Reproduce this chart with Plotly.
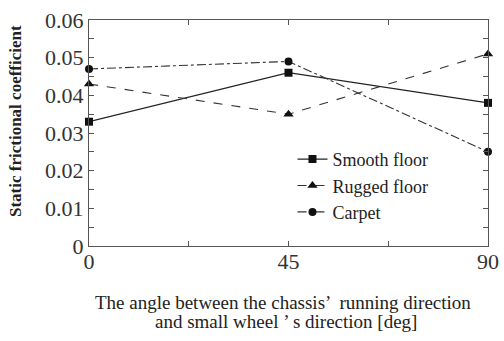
import plotly.graph_objects as go

angles = [0, 45, 90]
smooth = [0.033, 0.046, 0.038]
rugged = [0.043, 0.035, 0.051]
carpet = [0.047, 0.049, 0.025]

x_tickvals = [0, 22.5, 45, 67.5, 90]
x_ticktext = ["0", "", "45", "", "90"]
y_tickvals = [i * 0.005 for i in range(13)]
y_ticktext = ["0" if i == 0 else (f"{i*0.005:.2f}" if i % 2 == 0 else "") for i in range(13)]

xtitle_lines = ["The angle between the chassis\u2019  running direction",
                "and small wheel \u2019 s direction [deg]"]
ytitle = "Static frictional coefficient"

L, R, T, B = 89, 16, 20, 95
W, H = 504, 341
pw, ph = W - L - R, H - T - B

fig = go.Figure()
fig.add_trace(go.Scatter(x=angles, y=smooth, name="Smooth floor", mode="lines+markers",
                         line=dict(color="#222", width=1.2, dash="solid"),
                         marker=dict(symbol="square", size=8, color="#111"), cliponaxis=False))
fig.add_trace(go.Scatter(x=angles, y=rugged, name="Rugged floor", mode="lines+markers",
                         line=dict(color="#333", width=1.1, dash="dash"),
                         marker=dict(symbol="triangle-up", size=9, color="#111"), cliponaxis=False))
fig.add_trace(go.Scatter(x=angles, y=carpet, name="Carpet", mode="lines+markers",
                         line=dict(color="#333", width=1.1, dash="dashdot"),
                         marker=dict(symbol="circle", size=8, color="#111"), cliponaxis=False))

axis_common = dict(showgrid=False, zeroline=False, showline=True, linecolor="#555", linewidth=1.2,
                   mirror="ticks", ticks="inside", ticklen=5, tickcolor="#555", automargin=False,
                   tickfont=dict(family="Liberation Serif", size=22, color="#333"))

fig.update_xaxes(range=[0, 90], tickmode="array", tickvals=x_tickvals, ticktext=x_ticktext,
                 ticklabelstandoff=-5, **axis_common)
fig.update_yaxes(range=[0, 0.06], tickmode="array", tickvals=y_tickvals, ticktext=y_ticktext,
                 **axis_common)

for txt, xpx, ypx in zip(xtitle_lines, [283, 286], [302, 321]):
    fig.add_annotation(text=txt, xref="paper", yref="paper", x=(xpx - L) / pw,
                       y=(T + ph - ypx) / ph, xanchor="center", yanchor="middle", showarrow=False,
                       font=dict(family="Liberation Serif", size=19, color="#222"))

fig.add_annotation(text="<b>" + ytitle + "</b>", xref="paper", yref="paper", x=(15 - L) / pw,
                   y=(T + ph - 121) / ph, xanchor="center", yanchor="middle", showarrow=False,
                   textangle=-90, font=dict(family="Liberation Serif", size=17, color="#222"))

fig.update_layout(width=W, height=H, margin=dict(l=L, r=R, t=T, b=B),
                  paper_bgcolor="white", plot_bgcolor="white", showlegend=True,
                  legend=dict(x=0.51, y=0.465, xanchor="left", yanchor="top", bgcolor="rgba(0,0,0,0)",
                              font=dict(family="Liberation Serif", size=18, color="#222"),
                              tracegroupgap=0))

fig.write_html("out.html", config={"displayModeBar": False},
               post_script="document.body.style.margin='0';")
